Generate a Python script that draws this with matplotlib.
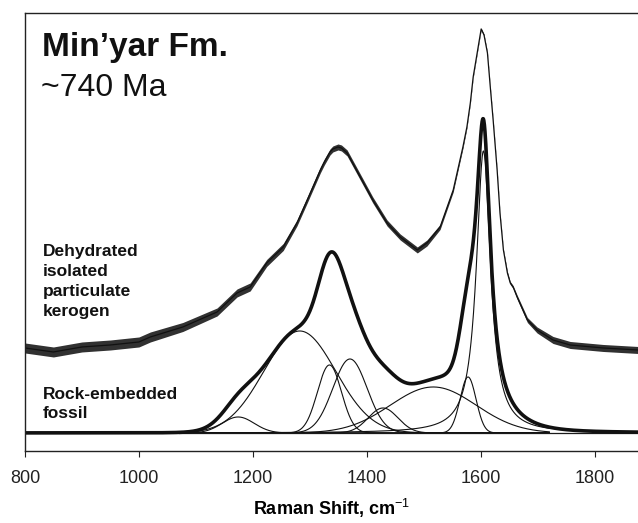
import numpy as np
import matplotlib
matplotlib.use("Agg")
import matplotlib.pyplot as plt

plt.rcParams['font.family'] = ['Liberation Sans', 'DejaVu Sans']
plt.rcParams['mathtext.fontset'] = 'custom'
plt.rcParams['mathtext.rm'] = 'Liberation Sans'

# upper trace: dehydrated isolated particulate kerogen
kerogen_shift = [800, 850, 900, 950, 1000, 1020, 1077, 1137, 1172, 1195, 1224, 1253,
                 1277, 1295, 1318, 1325, 1335, 1340, 1349, 1355, 1365, 1388, 1410,
                 1435, 1458, 1488, 1505, 1528, 1551, 1568, 1575, 1581, 1586, 1593,
                 1600, 1605, 1611, 1616, 1621, 1628, 1633, 1639, 1646, 1651, 1656,
                 1663, 1681, 1698, 1726, 1756, 1814, 1875]
kerogen_int = [85, 81, 86, 88, 91, 96, 106, 121, 140, 146, 170, 186,
               210, 233, 263, 271, 281, 284, 286, 285, 280, 256, 233,
               210, 196, 183, 190, 206, 243, 286, 306, 330, 356, 380,
               404, 398, 380, 346, 313, 263, 220, 183, 160, 150, 146,
               136, 113, 103, 93, 88, 85, 83]
# half spread of the noisy trace
kerogen_noise = [5, 5, 5, 5, 5, 5, 4.5, 4, 4, 4, 3.5, 3.5,
                 3, 3, 3, 3, 3, 3, 3, 3, 3, 3, 3,
                 3, 3, 3, 3, 2.5, 2, 1.5, 1.2, 1, 1, 1,
                 1, 1, 1, 1, 1, 1, 1, 1, 1.5, 1.5, 1.5,
                 2, 2.5, 3, 3.5, 3.5, 3.5, 3.5]

# rock-embedded fossil: fitted bands
gauss_center = [1174, 1282, 1334, 1370, 1428, 1516, 1577]
gauss_height = [16, 102, 68, 74, 25, 46, 56]
gauss_sigma = [28, 63, 21, 30, 26, 75, 14]
g_center = 1604
g_height = 282
g_fwhm = 30


def gauss(x, c, h, s):
    return h * np.exp(-(x - c) ** 2 / (2 * s ** 2))


def lorentz(x, c, h, w):
    return h / (1 + ((x - c) / (w / 2)) ** 2)


fig = plt.figure(figsize=(6.38, 5.23), dpi=100)
ax = fig.add_axes([0.039, 0.1377, 0.961, 0.8375])

x = np.linspace(800, 1875, 2200)
comps = [gauss(x, c, h, s) for c, h, s in zip(gauss_center, gauss_height, gauss_sigma)]
comps.append(lorentz(x, g_center, g_height, g_fwhm))
total = np.sum(comps, axis=0)

fit = (x >= 1080) & (x <= 1720)
for comp in comps:
    ax.plot(x[fit], comp[fit], color='#111111', lw=0.8)
ax.plot([1070, 1875], [0, 0], color='#1a1a1a', lw=0.9)
ax.plot(x, total, color='#111111', lw=2.6, solid_capstyle='butt')

ks = np.array(kerogen_shift)
ki = np.array(kerogen_int)
kn = np.array(kerogen_noise)
ax.fill_between(ks, ki - kn, ki + kn, color='#1a1a1a', lw=0, alpha=0.9)
ax.plot(ks, ki, color='#111111', lw=0.9)

ax.set_xlim(800, 1875)
ax.set_ylim(-18, 420)
ax.set_xticks([800, 1000, 1200, 1400, 1600, 1800])
ax.set_yticks([])
ax.spines['right'].set_visible(False)
for sp in ['left', 'top', 'bottom']:
    ax.spines[sp].set_linewidth(1.0)
    ax.spines[sp].set_color('#222222')
ax.tick_params(axis='x', direction='out', length=4, width=0.8, labelsize=13,
               pad=10, colors='#222222')
ax.set_xlabel(r'Raman Shift, cm$^{-1}$', fontsize=13, fontweight='bold', labelpad=7)

ax.text(0.028, 0.957, "Min\u2019yar Fm.", transform=ax.transAxes, fontsize=24,
        fontweight='bold', va='top', ha='left', color='#111111')
ax.text(0.026, 0.864, "~740 Ma", transform=ax.transAxes, fontsize=23,
        va='top', ha='left', color='#111111')
ax.text(0.029, 0.472, "Dehydrated\nisolated\nparticulate\nkerogen", transform=ax.transAxes,
        fontsize=12.5, fontweight='bold', va='top', ha='left', linespacing=1.4,
        color='#111111')
ax.text(0.029, 0.147, "Rock-embedded\nfossil", transform=ax.transAxes,
        fontsize=12.5, fontweight='bold', va='top', ha='left', linespacing=1.4,
        color='#111111')

fig.savefig('out.png', dpi=100)
